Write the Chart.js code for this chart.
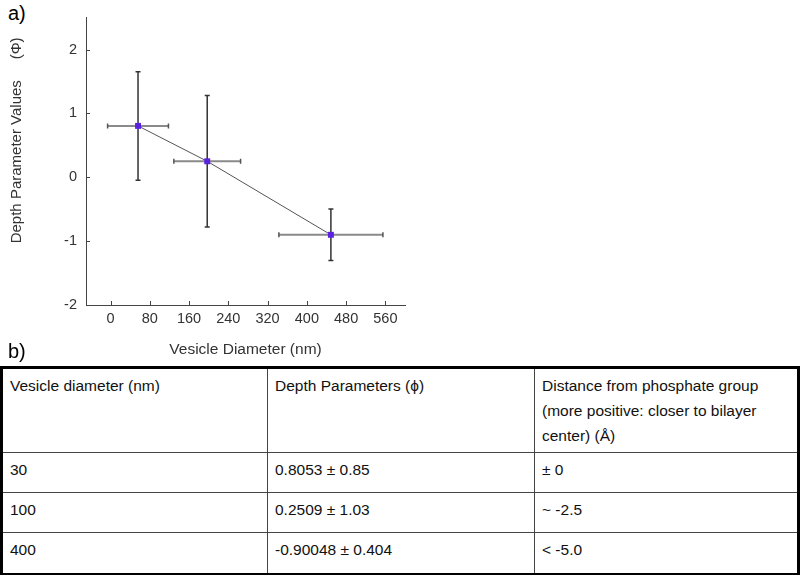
<!DOCTYPE html>
<html>
<head>
<meta charset="utf-8">
<script src="https://cdn.jsdelivr.net/npm/chart.js@4.4.0/dist/chart.umd.min.js"></script>
<style>
  body { margin: 0; background: #fff; width: 800px; height: 575px; position: relative; overflow: hidden;
         font-family: "Liberation Sans", Arial, sans-serif; color: #111; }
  .panel { position: absolute; left: 8px; font-size: 20px; line-height: 22px; color: #000; }
  #chartBox { position: absolute; left: 0; top: 0; width: 420px; height: 365px; }
  #depthTable { position: absolute; left: 0; top: 366px; width: 800px; box-sizing: border-box;
                border: 3px solid #000; border-collapse: separate; border-spacing: 0; table-layout: fixed;
                font-size: 15.5px; line-height: 25px; }
  #depthTable th, #depthTable td { box-sizing: border-box; text-align: left; vertical-align: top; font-weight: normal;
                padding: 4px 0 0 7px; border-right: 1px solid #444; border-bottom: 1px solid #444; }
  #depthTable th:last-child, #depthTable td:last-child { border-right: none; }
  #depthTable tr:last-child td { border-bottom: none; }
  #depthTable th { height: 84px; }
  #depthTable td { height: 40px; }
</style>
</head>
<body>
<div class="panel" style="top:2px">a)</div>
<div id="chartBox"><canvas id="depthChart"></canvas></div>
<div class="panel" style="top:340px">b)</div>
<table id="depthTable">
  <colgroup><col style="width:265px"><col style="width:267px"><col></colgroup>
  <thead>
    <tr>
      <th>Vesicle diameter (nm)</th>
      <th>Depth Parameters (ϕ)</th>
      <th>Distance from phosphate group<br>(more positive: closer to bilayer<br>center) (Å)</th>
    </tr>
  </thead>
  <tbody id="tableBody"></tbody>
</table>
<script>
// plotted points
const diameters = [56, 197, 449];
const diameterErr = [62, 68, 106];
const depthValues = [0.8053, 0.2509, -0.90048];
const depthErr = [0.85, 1.03, 0.404];
const xTicks = [0, 80, 160, 240, 320, 400, 480, 560];
const yTicks = [-2, -1, 0, 1, 2];

// table rows (panel b)
const tableDiameters = ['30', '100', '400'];
const tableDepths = ['0.8053 ± 0.85', '0.2509 ± 1.03', '-0.90048 ± 0.404'];
const tableDistances = ['± 0', '~ -2.5', '< -5.0'];

const body = document.getElementById('tableBody');
tableDiameters.forEach((d, i) => {
    const tr = document.createElement('tr');
    [d, tableDepths[i], tableDistances[i]].forEach(text => {
        const td = document.createElement('td');
        td.textContent = text;
        tr.appendChild(td);
    });
    body.appendChild(tr);
});

const errorBars = {
    id: 'errorBars',
    beforeDatasetsDraw(chart) {
        const { ctx, scales: { x, y } } = chart;
        ctx.save();
        diameters.forEach((d, i) => {
            const px = x.getPixelForValue(d);
            const py = y.getPixelForValue(depthValues[i]);
            const x0 = x.getPixelForValue(d - diameterErr[i]);
            const x1 = x.getPixelForValue(d + diameterErr[i]);
            const y0 = y.getPixelForValue(depthValues[i] + depthErr[i]);
            const y1 = y.getPixelForValue(depthValues[i] - depthErr[i]);

            // horizontal bar
            ctx.strokeStyle = '#8a8a8a';
            ctx.lineWidth = 2;
            ctx.beginPath();
            ctx.moveTo(x0, py);
            ctx.lineTo(x1, py);
            ctx.stroke();
            ctx.strokeStyle = '#555';
            ctx.lineWidth = 1.5;
            ctx.beginPath();
            ctx.moveTo(x0, py - 2.5); ctx.lineTo(x0, py + 2.5);
            ctx.moveTo(x1, py - 2.5); ctx.lineTo(x1, py + 2.5);
            ctx.stroke();

            // vertical bar
            ctx.strokeStyle = '#333';
            ctx.lineWidth = 1.5;
            ctx.beginPath();
            ctx.moveTo(px, y0); ctx.lineTo(px, y1);
            ctx.moveTo(px - 2.5, y0); ctx.lineTo(px + 2.5, y0);
            ctx.moveTo(px - 2.5, y1); ctx.lineTo(px + 2.5, y1);
            ctx.stroke();
        });
        ctx.restore();
    }
};

// tick marks point into the plot, and the y title sits a bit above centre
const axisExtras = {
    id: 'axisExtras',
    afterDraw(chart) {
        const { ctx, chartArea, scales: { x, y } } = chart;
        ctx.save();
        ctx.strokeStyle = '#444';
        ctx.lineWidth = 1;
        ctx.beginPath();
        x.ticks.forEach(t => {
            const px = Math.round(x.getPixelForValue(t.value)) + 0.5;
            ctx.moveTo(px, chartArea.bottom);
            ctx.lineTo(px, chartArea.bottom - 4);
        });
        y.ticks.forEach(t => {
            const py = Math.round(y.getPixelForValue(t.value)) + 0.5;
            ctx.moveTo(chartArea.left, py);
            ctx.lineTo(chartArea.left + 4, py);
        });
        ctx.stroke();

        ctx.translate(17, (chartArea.top + chartArea.bottom) / 2 - 21);
        ctx.rotate(-Math.PI / 2);
        ctx.fillStyle = '#333';
        ctx.font = '15px "Liberation Sans", Arial, sans-serif';
        ctx.textAlign = 'center';
        ctx.textBaseline = 'middle';
        ctx.fillText('Depth Parameter Values     (Φ)', 0, 0);
        ctx.restore();
    }
};

new Chart(document.getElementById('depthChart').getContext('2d'), {
    type: 'line',
    data: {
        datasets: [{
            data: diameters.map((d, i) => ({ x: d, y: depthValues[i] })),
            borderColor: '#555',
            borderWidth: 1,
            pointStyle: 'rect',
            pointRadius: 4.2,
            pointBackgroundColor: '#5b21e0',
            pointBorderColor: '#5b21e0',
            pointBorderWidth: 0,
            clip: false
        }]
    },
    options: {
        responsive: true,
        maintainAspectRatio: false,
        animation: false,
        layout: { padding: { top: 12, right: 15, left: 0, bottom: 0 } },
        plugins: { legend: { display: false }, tooltip: { enabled: false } },
        scales: {
            x: {
                type: 'linear',
                min: -50,
                max: 600,
                afterBuildTicks: s => { s.ticks = xTicks.map(v => ({ value: v })); },
                afterFit: s => { s.height = 60; },
                grid: { display: false, drawTicks: false },
                border: { display: true, color: '#444', width: 1 },
                ticks: { color: '#333', font: { size: 14.5 }, padding: 5, autoSkip: false, maxRotation: 0 },
                title: {
                    display: true,
                    text: 'Vesicle Diameter (nm)',
                    color: '#333',
                    font: { size: 15.5 },
                    padding: { top: 6, bottom: 6 }
                }
            },
            y: {
                min: -2,
                max: 2.5,
                afterBuildTicks: s => { s.ticks = yTicks.map(v => ({ value: v })); },
                afterFit: s => { s.width = 86; },
                grid: { display: false, drawTicks: false },
                border: { display: true, color: '#444', width: 1 },
                ticks: { color: '#333', font: { size: 14.5 }, padding: 9 }
            }
        }
    },
    plugins: [errorBars, axisExtras]
});
</script>
</body>
</html>
